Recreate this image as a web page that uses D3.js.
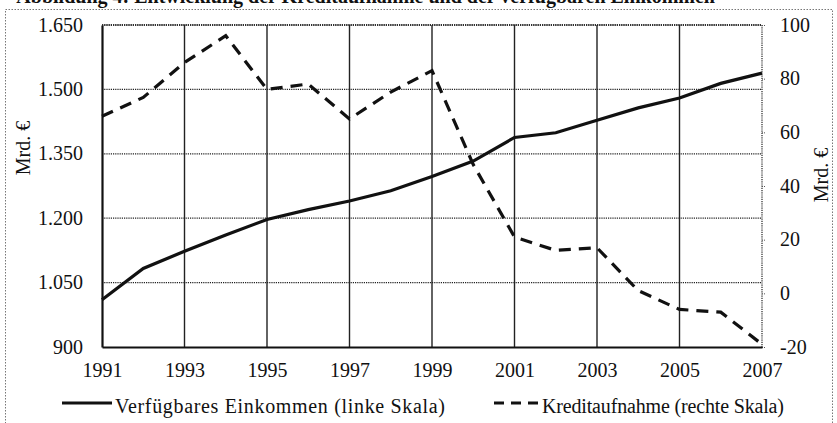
<!DOCTYPE html>
<html>
<head>
<meta charset="utf-8">
<script src="https://cdn.jsdelivr.net/npm/d3@7"></script>
<style>
  body { margin: 0; background: #fff; }
  svg text { font-family: "Liberation Serif", "Times New Roman", serif; fill: #111; }
</style>
</head>
<body>
<div class="chart"></div>
<script>
// Jahre, verfügbares Einkommen (Mrd. €, linke Skala), Kreditaufnahme (Mrd. €, rechte Skala)
var jahre = [1991, 1992, 1993, 1994, 1995, 1996, 1997, 1998, 1999, 2000, 2001, 2002, 2003, 2004, 2005, 2006, 2007];
var einkommen = [1010, 1083, 1123, 1161, 1197, 1220, 1240, 1264, 1297, 1333, 1388, 1399, 1428, 1457, 1480, 1514, 1538];
var kredit = [66, 73, 86, 96, 76, 78, 65, 75, 83, 48, 21, 16, 17, 1, -6, -7, -19];
var xTicks = [1991, 1993, 1995, 1997, 1999, 2001, 2003, 2005, 2007];
var leftTicks = [900, 1050, 1200, 1350, 1500, 1650];
var rightTicks = [-20, 0, 20, 40, 60, 80, 100];
var titel = "Abbildung 4: Entwicklung der Kreditaufnahme und der verfügbaren Einkommen";
var legende = ["Verfügbares Einkommen (linke  Skala)", "Kreditaufnahme (rechte Skala)"];

var W = 837, H = 423;
var x = d3.scaleLinear().domain([1991, 2007]).range([102, 762]);
var yL = d3.scaleLinear().domain([900, 1650]).range([347, 25]);
var yR = d3.scaleLinear().domain([-20, 100]).range([347, 25]);
var fmtDe = d3.formatLocale({decimal: ",", thousands: ".", grouping: [3], currency: ["", " €"]}).format(",d");
var fmtR = function(d) { return String(d); };   // normaler Bindestrich wie im Original

var svg = d3.select(".chart").append("svg")
    .attr("width", W)
    .attr("height", H);

// abgeschnittene Überschrift und gepunkteter Rahmen
svg.append("text")
    .attr("x", 715).attr("y", 3)
    .attr("text-anchor", "end")
    .attr("font-size", 20)
    .attr("font-weight", 700)
    .text(titel);
svg.append("rect")
    .attr("x", 5.5).attr("y", 9.5)
    .attr("width", 827).attr("height", 430)
    .attr("fill", "none")
    .attr("stroke", "#777")
    .attr("stroke-width", 1)
    .attr("stroke-dasharray", "1.5,1.5");

// horizontale Gitterlinien (gepunktet)
svg.append("g")
  .selectAll("line")
    .data(leftTicks.slice(1))
  .enter().append("line")
    .attr("x1", x(1991)).attr("x2", x(2007))
    .attr("y1", function(d) { return yL(d); })
    .attr("y2", function(d) { return yL(d); })
    .attr("stroke", "#222")
    .attr("stroke-width", 1.3)
    .attr("stroke-dasharray", "1.2,1");

// vertikale Gitterlinien
svg.append("g")
  .selectAll("line")
    .data(xTicks.slice(1, -1))
  .enter().append("line")
    .attr("x1", function(d) { return x(d); })
    .attr("x2", function(d) { return x(d); })
    .attr("y1", yL(1650)).attr("y2", yL(900))
    .attr("stroke", "#222")
    .attr("stroke-width", 1.4);

// rechte Achse gepunktet mit kleinen Ticks
svg.append("line")
    .attr("x1", x(2007)).attr("x2", x(2007))
    .attr("y1", yR(100)).attr("y2", yR(-20))
    .attr("stroke", "#333")
    .attr("stroke-width", 1.3)
    .attr("stroke-dasharray", "1.2,1");
svg.append("g")
    .attr("transform", "translate(" + x(2007) + ",0)")
    .call(d3.axisRight(yR).tickValues(rightTicks).tickSize(4).tickPadding(14).tickFormat(fmtR))
    .call(function(g) {
      g.select(".domain").remove();
      g.selectAll(".tick line").attr("stroke", "#555").attr("stroke-dasharray", "1,1");
      g.selectAll(".tick text").attr("font-size", 20).attr("font-family", "Liberation Serif").attr("fill", "#111").attr("dy", "0.3em");
    });

// linke Achse
svg.append("g")
    .attr("transform", "translate(" + x(1991) + ",0)")
    .call(d3.axisLeft(yL).tickValues(leftTicks).tickSize(0).tickPadding(19).tickFormat(fmtDe))
    .call(function(g) {
      g.select(".domain").attr("stroke", "#111").attr("stroke-width", 2.2);
      g.selectAll(".tick text").attr("font-size", 20).attr("font-family", "Liberation Serif").attr("fill", "#111").attr("dy", "0.3em");
    });

// untere Achse
svg.append("g")
    .attr("transform", "translate(0," + yL(900) + ")")
    .call(d3.axisBottom(x).tickValues(xTicks).tickSize(0).tickPadding(16).tickFormat(d3.format("d")))
    .call(function(g) {
      g.select(".domain").attr("stroke", "#111").attr("stroke-width", 2.2);
      g.selectAll(".tick text").attr("font-size", 20).attr("font-family", "Liberation Serif").attr("fill", "#111");
    });

// obere Begrenzung (gepunktet)
svg.append("line")
    .attr("x1", x(1991)).attr("x2", x(2007))
    .attr("y1", yL(1650)).attr("y2", yL(1650))
    .attr("stroke", "#222")
    .attr("stroke-width", 1.3)
    .attr("stroke-dasharray", "1.2,1");

// Achsentitel
svg.append("text")
    .attr("transform", "translate(30,148) rotate(-90)")
    .attr("text-anchor", "middle")
    .attr("font-size", 20)
    .text("Mrd. €");
svg.append("text")
    .attr("transform", "translate(828,175) rotate(-90)")
    .attr("text-anchor", "middle")
    .attr("font-size", 20)
    .text("Mrd. €");

// Linien
var lineL = d3.line()
    .x(function(d, i) { return x(jahre[i]); })
    .y(function(d) { return yL(d); });
var lineR = d3.line()
    .x(function(d, i) { return x(jahre[i]); })
    .y(function(d) { return yR(d); });

svg.append("path")
    .datum(kredit)
    .attr("d", lineR)
    .attr("fill", "none")
    .attr("stroke", "#111")
    .attr("stroke-width", 3.2)
    .attr("stroke-dasharray", "12,8");

svg.append("path")
    .datum(einkommen)
    .attr("d", lineL)
    .attr("fill", "none")
    .attr("stroke", "#111")
    .attr("stroke-width", 3.2);

// Legende
var leg = svg.append("g");
leg.append("line")
    .attr("x1", 62).attr("x2", 112).attr("y1", 403).attr("y2", 403)
    .attr("stroke", "#111").attr("stroke-width", 3);
leg.append("text")
    .attr("x", 115).attr("y", 413)
    .attr("font-size", 20)
    .attr("textLength", 330)
    .text(legende[0]);
leg.append("line")
    .attr("x1", 494).attr("x2", 539).attr("y1", 403).attr("y2", 403)
    .attr("stroke", "#111").attr("stroke-width", 3)
    .attr("stroke-dasharray", "10,7");
leg.append("text")
    .attr("x", 542).attr("y", 413)
    .attr("font-size", 20)
    .attr("textLength", 242)
    .text(legende[1]);
</script>
</body>
</html>
